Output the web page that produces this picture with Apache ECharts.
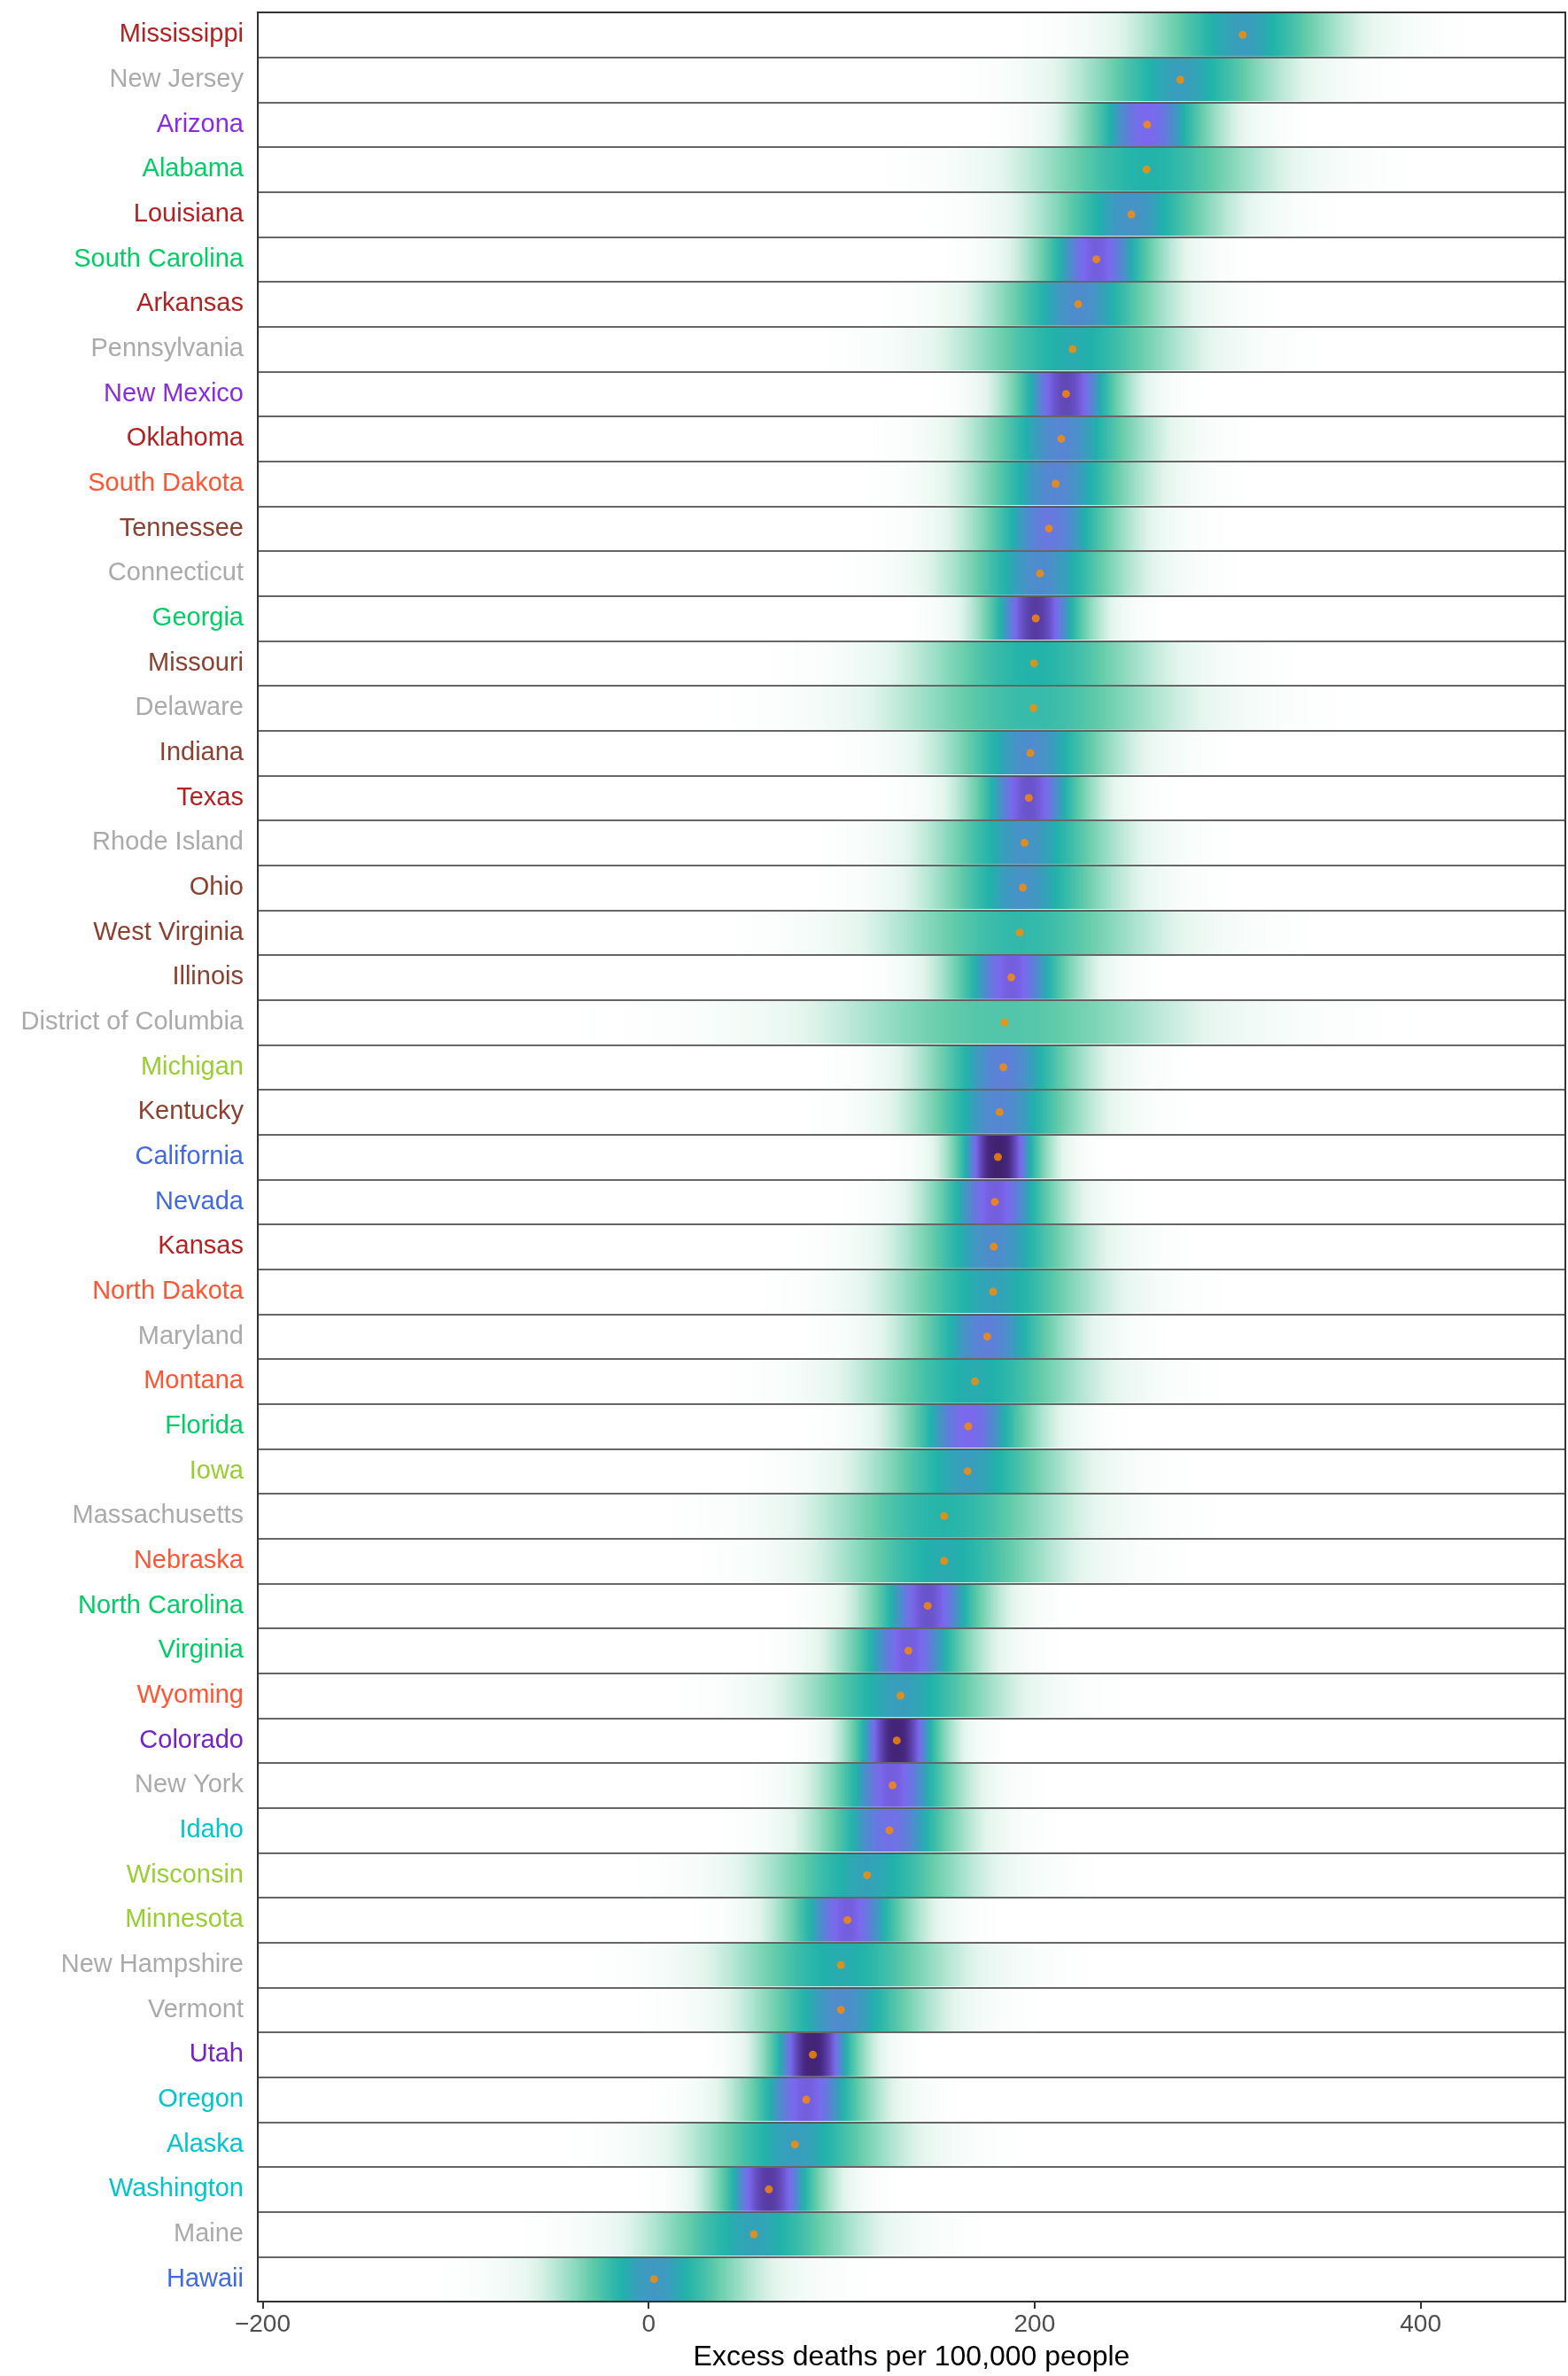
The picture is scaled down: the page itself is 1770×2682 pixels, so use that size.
<!DOCTYPE html>
<html>
<head>
<meta charset="utf-8">
<script src="https://cdn.jsdelivr.net/npm/echarts@6/dist/echarts.min.js"></script>
<style>
  html, body { margin: 0; padding: 0; background: #fff; }
  #chart { width: 1770px; height: 2682px; }
</style>
</head>
<body>
<div id="chart"></div>
<script>
// states, top to bottom
const states = [
    'Mississippi', 'New Jersey', 'Arizona', 'Alabama', 'Louisiana', 'South Carolina',
    'Arkansas', 'Pennsylvania', 'New Mexico', 'Oklahoma', 'South Dakota', 'Tennessee',
    'Connecticut', 'Georgia', 'Missouri', 'Delaware', 'Indiana', 'Texas',
    'Rhode Island', 'Ohio', 'West Virginia', 'Illinois', 'District of Columbia', 'Michigan',
    'Kentucky', 'California', 'Nevada', 'Kansas', 'North Dakota', 'Maryland',
    'Montana', 'Florida', 'Iowa', 'Massachusetts', 'Nebraska', 'North Carolina',
    'Virginia', 'Wyoming', 'Colorado', 'New York', 'Idaho', 'Wisconsin',
    'Minnesota', 'New Hampshire', 'Vermont', 'Utah', 'Oregon', 'Alaska',
    'Washington', 'Maine', 'Hawaii'
];

// region of each state (drives label colour)
const regions = [
    'southcentral', 'northeast', 'southwest', 'southeast', 'southcentral', 'southeast',
    'southcentral', 'northeast', 'southwest', 'southcentral', 'plains', 'midwest',
    'northeast', 'southeast', 'midwest', 'northeast', 'midwest', 'southcentral',
    'northeast', 'midwest', 'midwest', 'midwest', 'northeast', 'lakes',
    'midwest', 'pacific', 'pacific', 'southcentral', 'plains', 'northeast',
    'plains', 'southeast', 'lakes', 'northeast', 'plains', 'southeast',
    'southeast', 'plains', 'mountain', 'northeast', 'northwest', 'lakes',
    'lakes', 'northeast', 'northeast', 'mountain', 'northwest', 'northwest',
    'northwest', 'northeast', 'pacific'
];

// median excess deaths per 100,000 (orange dots)
const medians = [
    307.8, 275.5, 258.3, 258.0, 250.1, 232.0,
    222.6, 219.7, 216.3, 213.8, 210.9, 207.4,
    202.8, 200.6, 199.7, 199.4, 197.8, 197.0,
    194.8, 193.9, 192.3, 187.9, 184.4, 183.8,
    181.9, 181.0, 179.4, 178.8, 178.5, 175.4,
    169.1, 165.6, 165.3, 153.1, 153.1, 144.6,
    134.6, 130.5, 128.6, 126.4, 124.8, 113.2,
    103.0, 99.6, 99.6, 85.1, 81.7, 75.8,
    62.3, 54.5, 2.8
];

// spread (sd) of each state's distribution
const spreads = [
    27, 27, 19, 32, 25, 18,
    24, 30, 16, 23, 23, 21,
    24, 15, 32, 38, 24, 17,
    25, 25, 36, 18, 48, 22,
    23, 12.5, 18, 24, 28, 22,
    30, 19, 27, 33, 30, 17,
    18, 27, 13, 18, 20, 28,
    18, 30, 24, 13, 18, 27,
    15, 28, 26
];

const xTicks = [-200, 0, 200, 400];

const regionColors = {
    southcentral: '#b22222',
    northeast: '#aaaaaa',
    southwest: '#8a2be2',
    mountain: '#7424c4',
    southeast: '#00cd66',
    plains: '#ff5533',
    midwest: '#8b4030',
    lakes: '#9acd32',
    pacific: '#4169e1',
    northwest: '#00c5cd'
};

const xMin = -202.5;
const xMax = 475;
const sdRef = 12.5;

// density colour scale
const fillStops = [
    [0, '#ffffff'],
    [0.16, '#e4f5ee'],
    [0.46, '#66cdaa'],
    [0.63, '#20b2aa'],
    [0.81, '#7b68ee'],
    [0.96, '#46277f'],
    [1, '#40226f']
];

function toRgb(c) {
    return [parseInt(c.slice(1, 3), 16), parseInt(c.slice(3, 5), 16), parseInt(c.slice(5, 7), 16)];
}

function fillColor(t) {
    t = Math.max(0, Math.min(1, t));
    for (let i = 1; i < fillStops.length; i++) {
        if (t <= fillStops[i][0]) {
            const a = fillStops[i - 1], b = fillStops[i];
            const f = (t - a[0]) / (b[0] - a[0]);
            const ca = toRgb(a[1]), cb = toRgb(b[1]);
            const c = ca.map((v, k) => Math.round(v + (cb[k] - v) * f));
            return 'rgb(' + c.join(',') + ')';
        }
    }
    return fillStops[fillStops.length - 1][1];
}

function renderBand(params, api) {
    const m = api.value(0);
    const row = api.value(1);
    const sd = api.value(2);
    const lo = Math.max(xMin, m - 4.5 * sd);
    const hi = Math.min(xMax, m + 4.5 * sd);
    const p0 = api.coord([lo, row]);
    const p1 = api.coord([hi, row]);
    const h = api.size([0, 1])[1];
    const peak = Math.sqrt(sdRef / sd);
    const stops = [];
    const n = 80;
    for (let k = 0; k <= n; k++) {
        const x = lo + (hi - lo) * k / n;
        const z = (x - m) / sd;
        stops.push({ offset: k / n, color: fillColor(peak * Math.exp(-z * z / 4)) });
    }
    return {
        type: 'rect',
        shape: { x: p0[0], y: p0[1] - h / 2 + 1, width: p1[0] - p0[0], height: h - 2 },
        style: { fill: new echarts.graphic.LinearGradient(0, 0, 1, 0, stops) }
    };
}

const chart = echarts.init(document.getElementById('chart'));

chart.setOption({
    animation: false,
    backgroundColor: '#ffffff',
    textStyle: { fontFamily: 'Liberation Sans, Arial, sans-serif' },
    grid: {
        left: 291,
        right: 3,
        top: 14,
        bottom: 84,
        show: true,
        borderColor: '#333',
        borderWidth: 2,
        outerBoundsMode: 'none'
    },
    xAxis: {
        type: 'value',
        min: xMin,
        max: xMax,
        splitLine: { show: false },
        axisLine: { show: false },
        axisTick: {
            show: true,
            customValues: xTicks,
            length: 8,
            lineStyle: { color: '#333', width: 2 }
        },
        axisLabel: {
            customValues: xTicks,
            fontSize: 28,
            color: '#4d4d4d',
            margin: 12,
            formatter: v => String(v).replace('-', '\u2212')
        },
        name: 'Excess deaths per 100,000 people',
        nameLocation: 'middle',
        nameGap: 47,
        nameTextStyle: { fontSize: 32, color: '#000' }
    },
    yAxis: {
        type: 'category',
        data: states,
        inverse: true,
        z: 5,
        axisLine: { show: false },
        axisTick: { show: false },
        axisLabel: {
            interval: 0,
            fontSize: 29,
            margin: 16,
            color: (value, index) => regionColors[regions[states.indexOf(value)]]
        },
        splitLine: { show: true, lineStyle: { color: '#333', width: 1.6 } }
    },
    series: [
        {
            type: 'custom',
            renderItem: renderBand,
            clip: true,
            encode: { x: 0, y: 1 },
            data: states.map((s, i) => [medians[i], i, spreads[i]]),
            z: 2
        },
        {
            type: 'scatter',
            symbolSize: 9,
            itemStyle: { color: '#ff8c00' },
            data: states.map((s, i) => [medians[i], i]),
            z: 6
        }
    ]
});
</script>
</body>
</html>
